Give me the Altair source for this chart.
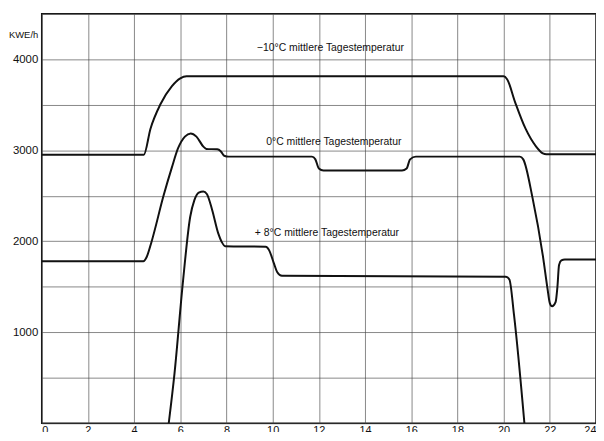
import altair as alt
import pandas as pd

# -10 °C curve
h_m10 = [0, 4.42, 4.71, 5.14, 5.63, 6.0, 6.27, 20.0, 20.15, 20.5, 20.95, 21.4, 21.7, 21.85, 24]
v_m10 = [2950, 2950, 3237, 3505, 3702, 3790, 3812, 3812, 3780, 3527, 3237, 3043, 2965, 2955, 2955]

# 0 °C curve
h_0 = [0, 4.4, 4.55, 4.75, 5.28, 5.63, 5.9, 6.2, 6.45, 6.7, 7.0, 7.13, 7.6, 7.75, 7.9, 8.1,
       11.7, 11.85, 12.0, 12.2, 15.6, 15.8, 15.95, 16.2, 20.7, 20.85, 21.25, 21.7, 21.9, 22.0,
       22.1, 22.25, 22.33, 22.4, 22.5, 22.65, 24]
v_0 = [1780, 1780, 1830, 1990, 2505, 2806, 3020, 3150, 3185, 3150, 3040, 3015, 3010, 2990, 2940, 2930,
       2930, 2900, 2800, 2778, 2778, 2800, 2900, 2930, 2930, 2900, 2480, 1840, 1480, 1320,
       1285, 1330, 1500, 1740, 1790, 1800, 1800]

# +8 °C curve
h_p8 = [5.5, 5.75, 6.1, 6.43, 6.61, 6.8, 7.0, 7.15, 7.38, 7.64, 7.8, 7.94, 9.7, 9.85, 10.05, 10.2,
        10.4, 20.1, 20.25, 20.45, 20.9]
v_p8 = [0, 548, 1516, 2269, 2452, 2535, 2548, 2520, 2344, 2090, 1990, 1946, 1940, 1900, 1760, 1660,
        1620, 1610, 1580, 1190, 0]

label_text = ["\u221210\u00b0C mittlere Tagestemperatur",
              "0\u00b0C mittlere Tagestemperatur",
              "+ 8\u00b0C mittlere Tagestemperatur"]
label_h = [12.5, 12.65, 12.35]
label_v = [4118, 3090, 2086]

x_ticks = list(range(0, 25, 2))
y_ticks = list(range(0, 4501, 500))

rows = []
for name, hs, vs in [("m10", h_m10, v_m10), ("p0", h_0, v_0), ("p8", h_p8, v_p8)]:
    for i, (h, v) in enumerate(zip(hs, vs)):
        rows.append({"curve": name, "h": h, "v": v, "o": i})
df = pd.DataFrame(rows)
lab = pd.DataFrame({"t": label_text, "h": label_h, "v": label_v})

FONT = "Liberation Sans"

xscale = alt.Scale(domain=[0, 24], nice=False, zero=False)
yscale = alt.Scale(domain=[0, 4500], nice=False)

lines = alt.Chart(df).mark_line(
    color="#111111", strokeWidth=2, interpolate="monotone", clip=True
).encode(
    x=alt.X("h:Q", scale=xscale, axis=alt.Axis(
        values=x_ticks, title=None, grid=True, gridColor="#444444", gridWidth=0.8,
        gridOpacity=0.8, domain=False, ticks=False, labelPadding=1, labelFontSize=11,
        labelFont=FONT, labelColor="#111111", format="d", labelBaseline="top")),
    y=alt.Y("v:Q", scale=yscale, axis=alt.Axis(
        values=y_ticks, grid=True, gridColor="#444444", gridWidth=0.8, gridOpacity=0.8,
        domain=False, ticks=False, labelPadding=4, labelFontSize=11.5, labelFont=FONT,
        labelColor="#111111",
        labelExpr="(datum.value % 1000 == 0 && datum.value > 0 && datum.value < 4500) ? datum.value : ''",
        title="KWE/h", titleAngle=0, titleX=-4, titleY=21, titleAlign="right",
        titleBaseline="middle", titleFont=FONT, titleFontSize=9.5, titleFontWeight="normal",
        titleColor="#111111")),
    detail="curve:N",
    order="o:Q",
)

labels = alt.Chart(lab).mark_text(
    font=FONT, fontSize=10.5, color="#111111", align="center", baseline="middle"
).encode(
    x=alt.X("h:Q", scale=xscale),
    y=alt.Y("v:Q", scale=yscale),
    text="t:N",
)

chart = alt.layer(lines, labels).properties(
    width=559, height=413,
    autosize=alt.AutoSizeParams(type="none"),
    padding={"left": 34, "top": 4, "right": 0, "bottom": 7},
    background="white",
).configure_view(stroke="#111111", strokeWidth=1.5)

chart.save("out.html", embed_options={"renderer": "svg", "actions": False})
